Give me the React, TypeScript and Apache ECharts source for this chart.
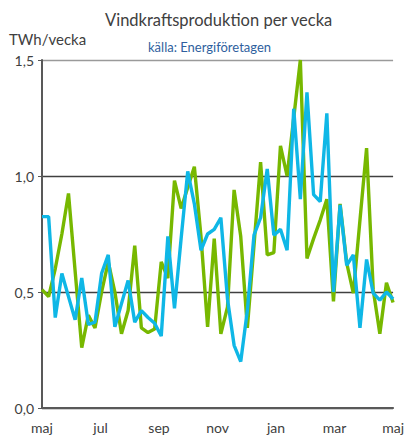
import React, { useEffect, useRef } from "react";
import * as echarts from "echarts";

const monthLabels = ["maj", "jul", "sep", "nov", "jan", "mar", "maj"];
const yTicks = [0, 0.5, 1.0, 1.5];

const greenSeries = [
  0.51, 0.48, 0.6, 0.75, 0.925, 0.59, 0.26, 0.4, 0.345, 0.5,
  0.63, 0.5, 0.32, 0.42, 0.7, 0.345, 0.325, 0.34, 0.63, 0.56,
  0.98, 0.86, 0.95, 1.04, 0.74, 0.35, 0.73, 0.32, 0.435, 0.94,
  0.74, 0.345, 0.7, 1.06, 0.66, 0.67, 1.13, 1.0, 1.25, 1.5,
  0.645, 0.73, 0.81, 0.9, 0.46, 0.88, 0.625, 0.495, 0.81, 1.12,
  0.51, 0.32, 0.54, 0.455,
];

const cyanSeries = [
  0.825, 0.825, 0.39, 0.58, 0.48, 0.38, 0.56, 0.36, 0.37, 0.58,
  0.66, 0.35, 0.45, 0.55, 0.37, 0.42, 0.39, 0.365, 0.31, 0.74,
  0.43, 0.73, 1.02, 0.88, 0.68, 0.75, 0.77, 0.82, 0.47, 0.27,
  0.2, 0.42, 0.745, 0.82, 1.03, 0.745, 0.77, 0.68, 1.29, 0.9,
  1.36, 0.92, 0.89, 1.27, 0.5, 0.875, 0.615, 0.66, 0.345, 0.64,
  0.495, 0.465, 0.5, 0.47,
];

const FONT = "Lato, 'Open Sans', sans-serif";

export default function App() {
  const ref = useRef<HTMLDivElement>(null);
  useEffect(() => {
    if (!ref.current) return;
    const chart = echarts.init(ref.current, null, { renderer: "svg" });
    const nWeeks = greenSeries.length - 1;
    const step = nWeeks / (monthLabels.length - 1);
    chart.setOption({
      animation: false,
      title: [
        {
          text: "Vindkraftsproduktion per vecka",
          left: 100,
          top: 6,
          textStyle: { fontFamily: FONT, fontSize: 16.5, fontWeight: "normal", color: "#404040" },
        },
        {
          text: "källa: Energiföretagen",
          left: 143,
          top: 35,
          textStyle: { fontFamily: FONT, fontSize: 13, fontWeight: "normal", color: "#2f5f9e" },
        },
      ],
      graphic: [
        {
          type: "text",
          left: 9,
          top: 31,
          style: { text: "TWh/vecka", font: `15px ${FONT}`, fill: "#404040" },
        },
      ],
      grid: { left: 42, right: 9, top: 60, bottom: 29 },
      xAxis: {
        type: "value",
        min: 0,
        max: nWeeks,
        interval: step,
        axisLine: { show: true, lineStyle: { color: "#595959", width: 2 } },
        axisTick: { show: false },
        splitLine: { show: false },
        axisLabel: {
          margin: 12,
          fontFamily: FONT,
          fontSize: 14,
          color: "#404040",
          formatter: (v: number) => monthLabels[Math.round(v / step)] ?? "",
        },
      },
      yAxis: {
        type: "value",
        min: yTicks[0],
        max: yTicks[yTicks.length - 1],
        interval: 0.5,
        axisLine: { show: true, lineStyle: { color: "#595959", width: 2 } },
        axisTick: { show: true, length: 4, lineStyle: { color: "#595959" } },
        splitLine: {
          show: true,
          lineStyle: { color: ["#404040", "#404040", "#404040", "#9a9a9a"], width: 1.3 },
        },
        axisLabel: {
          margin: 8,
          fontFamily: FONT,
          fontSize: 14,
          color: "#404040",
          formatter: (v: number) => v.toFixed(1).replace(".", ","),
        },
      },
      series: [
        {
          type: "line",
          data: greenSeries.map((v, i) => [i, v]),
          showSymbol: false,
          lineStyle: { color: "#77b800", width: 3.4 },
          itemStyle: { color: "#77b800" },
        },
        {
          type: "line",
          data: cyanSeries.map((v, i) => [i, v]),
          showSymbol: false,
          lineStyle: { color: "#0fb7e6", width: 3.4 },
          itemStyle: { color: "#0fb7e6" },
        },
      ],
    });
    return () => chart.dispose();
  }, []);
  return <div ref={ref} style={{ width: 407, height: 437, position: "absolute", left: 0, top: 0 }} />;
}
